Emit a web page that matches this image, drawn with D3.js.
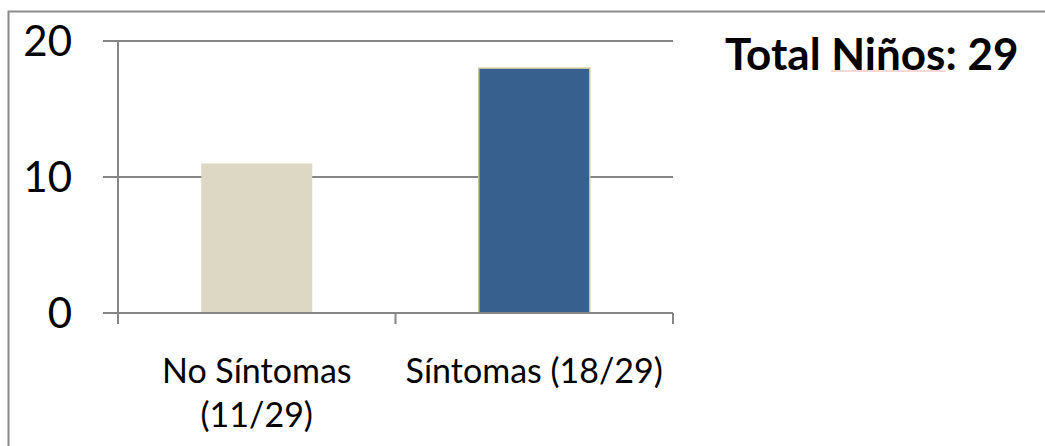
<!DOCTYPE html>
<html>
<head>
<meta charset="utf-8">
<script src="https://cdn.jsdelivr.net/npm/d3@7"></script>
<style>
    body { margin: 0; background: #ffffff; }
    svg { display: block; font-family: Lato, 'Open Sans', sans-serif; }
</style>
</head>
<body>
<script>
var categories = ['No Síntomas|(11/29)', 'Síntomas (18/29)'];
var values = [11, 18];
var yTicks = [0, 10, 20];
var title = 'Total Niños: 29';
var color = d3.scaleOrdinal()
                .domain(categories)
                .range(['#ddd8c3', '#37608f']);

window.document.addEventListener('DOMContentLoaded', init, false);

function init() {
    var canvas = createCanvas(1045, 446);

    // frame (only left and top edges are visible)
    canvas.append('rect')
        .attr('x', 8.5)
        .attr('y', 11.5)
        .attr('width', 1100)
        .attr('height', 500)
        .attr('fill', 'none')
        .attr('stroke', '#8a8a8a')
        .attr('stroke-width', 2);

    var left = 118, right = 673, top = 41, bottom = 313;

    var y = d3.scaleLinear()
            .domain([0, 20])
            .range([bottom, top]);

    var xOuter = d3.scaleBand()
            .domain(categories)
            .range([left, right]);

    var x = d3.scaleBand()
            .domain(categories)
            .range([left, right])
            .paddingInner(0.6)
            .paddingOuter(0.3);

    // gridlines and y ticks
    var grid = canvas.append('g');
    grid.selectAll('line')
        .data(yTicks)
        .enter()
            .append('line')
            .attr('x1', left - 15)
            .attr('x2', (d) => d === 0 ? left : right)
            .attr('y1', (d) => y(d))
            .attr('y2', (d) => y(d))
            .attr('stroke', '#868686')
            .attr('stroke-width', 2);

    grid.selectAll('text')
        .data(yTicks)
        .enter()
            .append('text')
            .attr('x', 72)
            .attr('y', (d) => y(d))
            .attr('dy', '0.36em')
            .attr('text-anchor', 'end')
            .attr('font-size', 42)
            .attr('fill', '#000')
            .text((d) => d);

    // bars
    canvas.append('g')
        .selectAll('rect')
        .data(values)
        .enter()
            .append('rect')
            .attr('x', (d, i) => x(categories[i]))
            .attr('y', (d) => y(d))
            .attr('width', x.bandwidth())
            .attr('height', (d) => y(0) - y(d))
            .attr('fill', (d, i) => color(categories[i]))
            .attr('stroke', (d, i) => i === 1 ? '#cbc39c' : 'none')
            .attr('stroke-width', 1.5);

    // y axis line
    canvas.append('line')
        .attr('x1', left).attr('x2', left)
        .attr('y1', top).attr('y2', bottom)
        .attr('stroke', '#868686')
        .attr('stroke-width', 2);

    // x axis line with ticks between categories
    var xAxis = canvas.append('g');
    xAxis.append('line')
        .attr('x1', left).attr('x2', right)
        .attr('y1', bottom).attr('y2', bottom)
        .attr('stroke', '#868686')
        .attr('stroke-width', 2);

    var bounds = categories.map((c) => xOuter(c)).concat([right]);
    xAxis.selectAll('.tick')
        .data(bounds)
        .enter()
            .append('line')
            .attr('class', 'tick')
            .attr('x1', (d) => d).attr('x2', (d) => d)
            .attr('y1', bottom).attr('y2', bottom + 11)
            .attr('stroke', '#868686')
            .attr('stroke-width', 2);

    // category labels
    var labels = xAxis.selectAll('.label')
        .data(categories)
        .enter()
            .append('text')
            .attr('class', 'label')
            .attr('x', (d) => xOuter(d) + xOuter.bandwidth() / 2)
            .attr('y', 383)
            .attr('text-anchor', 'middle')
            .attr('font-size', 34)
            .attr('fill', '#000');

    labels.selectAll('tspan')
        .data((d) => d.split('|').map((t) => ({ text: t, cx: xOuter(d) + xOuter.bandwidth() / 2 })))
        .enter()
            .append('tspan')
            .attr('x', (d) => d.cx)
            .attr('dy', (d, i) => i === 0 ? 0 : 44)
            .text((d) => d.text);

    // title
    var titleText = canvas.append('text')
        .attr('x', 725)
        .attr('y', 70)
        .attr('font-size', 44)
        .attr('font-weight', 'bold')
        .attr('fill', '#000')
        .text(title);

    // spell-check underline under "Niños"
    var node = titleText.node();
    var start = title.indexOf('Niños');
    var x0 = node.getStartPositionOfChar(start).x;
    var x1 = node.getEndPositionOfChar(start + 4).x;
    canvas.append('line')
        .attr('x1', x0).attr('x2', x1)
        .attr('y1', 71).attr('y2', 71)
        .attr('stroke', '#f2b0b0')
        .attr('stroke-width', 1);
}

function createCanvas(width, height) {
    return d3.select('body')
        .append('svg')
        .attr('width', width)
        .attr('height', height);
}
</script>
</body>
</html>
